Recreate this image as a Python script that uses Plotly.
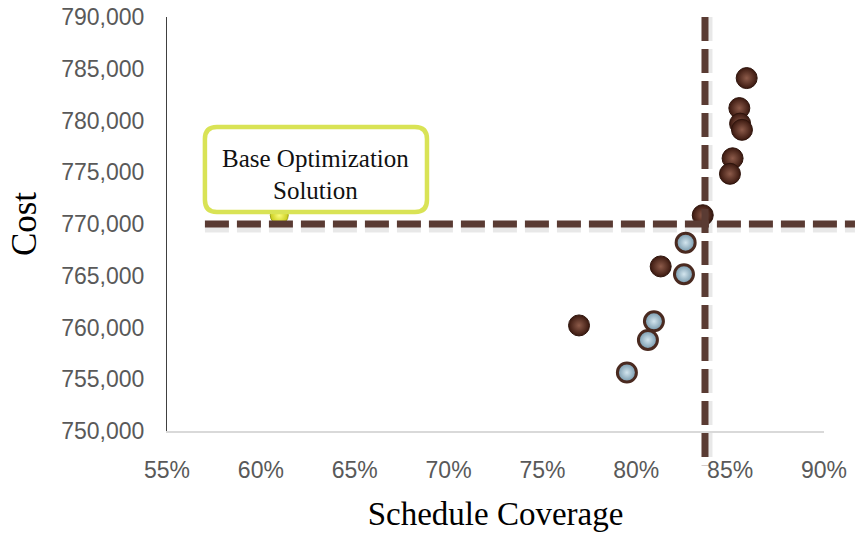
import plotly.graph_objects as go

# Schedule coverage (fraction) and cost for each optimisation run
brown_coverage = [0.8588, 0.8549, 0.8553, 0.8563, 0.8513, 0.8499, 0.8354, 0.8130, 0.7695]
brown_cost = [784100, 781200, 779700, 779100, 776350, 774850, 770850, 765900, 760200]

blue_coverage = [0.8263, 0.8254, 0.8094, 0.8062, 0.7950]
blue_cost = [768200, 765150, 760600, 758800, 755650]

base_coverage = [0.6098]
base_cost = [770850]

# Reference lines (target cost and target coverage)
target_cost = 770000
target_coverage = 0.8366
hline_span = (0.5702, 0.9165)      # coverage extent of the cost line
vline_span = (790000, 746700)      # cost extent of the coverage line

x_range = [0.55, 0.90]
y_range = [750000, 790000]
x_ticks = [0.55, 0.60, 0.65, 0.70, 0.75, 0.80, 0.85, 0.90]
y_ticks = [750000, 755000, 760000, 765000, 770000, 775000, 780000, 785000, 790000]

callout_lines = ["Base Optimization", "Solution"]

W, H = 864, 536
M = dict(l=167, r=40, t=17, b=105)
plot_w = W - M["l"] - M["r"]
plot_h = H - M["t"] - M["b"]
px_x = (x_range[1] - x_range[0]) / plot_w   # data units per pixel
px_y = (y_range[1] - y_range[0]) / plot_h


def xpaper(v):
    return (v - x_range[0]) / (x_range[1] - x_range[0])


def ypaper(v):
    return (v - y_range[0]) / (y_range[1] - y_range[0])


LINE_BROWN = "#5a3b33"
serif = "Liberation Serif, Times New Roman, serif"

fig = go.Figure()

# Radial gradients run from gradient.color at the centre to marker.color at the rim
fig.add_trace(go.Scatter(
    x=base_coverage, y=base_cost, mode="markers",
    marker=dict(size=18, color="#c8cc1a",
                gradient=dict(type="radial", color="#fbfc7a"),
                line=dict(color="#9fa21c", width=1)),
    hoverinfo="skip", showlegend=False, cliponaxis=False,
))
fig.add_trace(go.Scatter(
    x=brown_coverage, y=brown_cost, mode="markers",
    marker=dict(size=21, color="#3a180f",
                gradient=dict(type="radial", color="#8d5b4a"),
                line=dict(color="#2e140c", width=1)),
    hoverinfo="skip", showlegend=False, cliponaxis=False,
))
fig.add_trace(go.Scatter(
    x=blue_coverage, y=blue_cost, mode="markers",
    marker=dict(size=19, color="#7396aa",
                gradient=dict(type="radial", color="#d3e5ee"),
                line=dict(color="#4a2a20", width=3)),
    hoverinfo="skip", showlegend=False, cliponaxis=False,
))

# Soft shadows under the dashed reference lines
fig.add_shape(type="line", xref="paper", yref="y",
              x0=xpaper(hline_span[0]), x1=xpaper(hline_span[1]),
              y0=target_cost - 4 * px_y, y1=target_cost - 4 * px_y,
              line=dict(color="rgba(0,0,0,0.09)", width=9, dash="24px,8px"),
              layer="above")
fig.add_shape(type="line", xref="x", yref="paper",
              x0=target_coverage + 3 * px_x, x1=target_coverage + 3 * px_x,
              y0=ypaper(vline_span[0]), y1=ypaper(vline_span[1]),
              line=dict(color="rgba(0,0,0,0.09)", width=9, dash="24px,8px"),
              layer="above")

# Dashed reference lines
fig.add_shape(type="line", xref="paper", yref="y",
              x0=xpaper(hline_span[0]), x1=xpaper(hline_span[1]),
              y0=target_cost, y1=target_cost,
              line=dict(color=LINE_BROWN, width=7, dash="24px,8px"),
              layer="above")
fig.add_shape(type="line", xref="x", yref="paper",
              x0=target_coverage, x1=target_coverage,
              y0=ypaper(vline_span[0]), y1=ypaper(vline_span[1]),
              line=dict(color=LINE_BROWN, width=7, dash="24px,8px"),
              layer="above")

# Rounded callout box
bx0, bx1 = 0.5702, 0.6885
by0, by1 = 771150, 779380
rx, ry = 12 * px_x, 12 * px_y
box_path = (
    f"M {bx0 + rx} {by1} L {bx1 - rx} {by1} Q {bx1} {by1} {bx1} {by1 - ry} "
    f"L {bx1} {by0 + ry} Q {bx1} {by0} {bx1 - rx} {by0} "
    f"L {bx0 + rx} {by0} Q {bx0} {by0} {bx0} {by0 + ry} "
    f"L {bx0} {by1 - ry} Q {bx0} {by1} {bx0 + rx} {by1} Z"
)
fig.add_shape(type="path", xref="x", yref="y", path=box_path,
              fillcolor="white", line=dict(color="#d9e355", width=4.5),
              layer="above")
line_gap = 32 * px_y
box_mid = (by0 + by1) / 2
for i, txt in enumerate(callout_lines):
    fig.add_annotation(
        x=(bx0 + bx1) / 2, y=box_mid + line_gap * (0.5 - i) - 5 * px_y,
        xref="x", yref="y", text=txt, showarrow=False,
        font=dict(family=serif, size=25, color="#111111"),
    )

tick_font = dict(family="Liberation Sans, Arial, sans-serif", size=23, color="#595959")

fig.update_xaxes(
    range=x_range, tickvals=x_ticks, tickformat=".0%",
    showgrid=False, zeroline=False, automargin=False,
    showline=True, linecolor="#d9d9d9", linewidth=2,
    ticks="", ticklabelstandoff=17, tickfont=tick_font,
    title=dict(text="Schedule Coverage", font=dict(family=serif, size=33, color="#000000"),
               standoff=20),
)
fig.update_yaxes(
    range=y_range, tickvals=y_ticks, tickformat=",d",
    showgrid=False, zeroline=False, automargin=False,
    showline=True, linecolor="#404040", linewidth=1,
    ticks="", ticklabelstandoff=17, tickfont=tick_font,
    title=dict(text="Cost", font=dict(family=serif, size=35, color="#000000"),
               standoff=14),
)

fig.update_layout(
    width=W, height=H, margin=dict(M, autoexpand=False),
    paper_bgcolor="white", plot_bgcolor="white",
    showlegend=False,
)

fig.write_html("out.html")
